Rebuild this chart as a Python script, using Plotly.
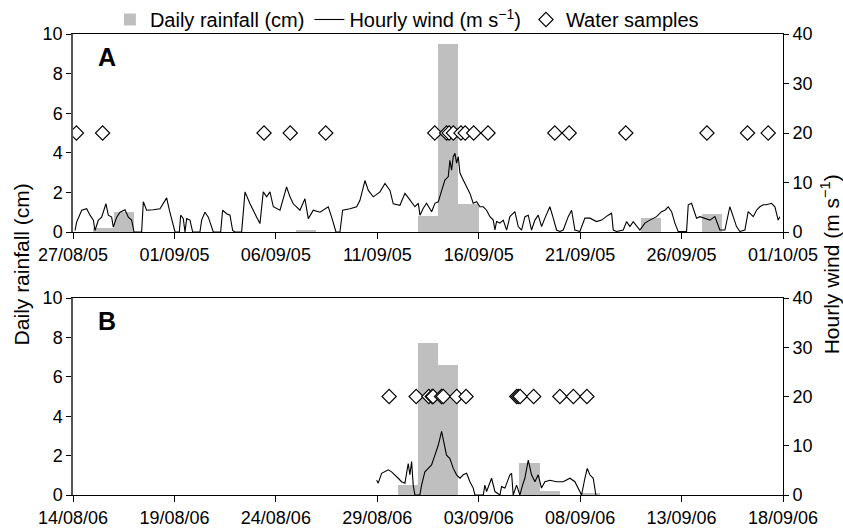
import plotly.graph_objects as go
from datetime import datetime, timedelta

# ---------------- Panel A (2005) ----------------
a_start = "2005-08-27"
a_end = "2005-10-01"
rain_a_dates = ["2005-08-28", "2005-08-29", "2005-09-07", "2005-09-13",
                "2005-09-14", "2005-09-15", "2005-09-24", "2005-09-27"]
rain_a_cm = [0.2, 1.0, 0.1, 0.8, 9.5, 1.4, 0.7, 0.9]

# hours since 27/08/05 00:00 and wind speed (m/s)
wind_a_hours = [2.4, 4.3, 10.3, 16.2, 20.1, 24.1, 26.0, 30.0, 33.9, 39.0, 41.8, 45.7, 47.7,
                51.7, 55.6, 61.5, 65.5, 69.4, 72.2, 81.2, 83.2, 87.1, 95.0, 102.9, 110.8,
                114.0, 120.7, 125.8, 127.4, 130.5, 132.5, 134.5, 138.4, 141.6, 150.2, 152.2,
                156.1, 160.1, 166.0, 174.7, 177.0, 181.8, 185.7, 188.9, 191.6, 199.5, 203.5,
                209.4, 217.3, 221.2, 225.1, 229.1, 233.0, 237.0, 244.9, 252.7, 256.7, 260.6,
                268.5, 274.4, 278.4, 284.3, 292.2, 302.0, 306.0, 311.1, 315.8, 319.0, 327.7,
                335.6, 339.5, 345.4, 349.4, 355.3, 363.2, 369.1, 375.0, 378.9, 386.8,
                392.7, 398.6, 404.5, 408.5, 410.5, 414.4, 418.3, 424.3, 428.2, 432.1, 436.1,
                440.0, 444.0, 445.9, 447.9, 449.9, 451.9, 453.8, 455.8, 457.8, 461.7, 465.7,
                469.6, 473.5, 477.5, 481.4, 485.4, 489.3, 493.3, 497.2, 499.2, 501.1, 505.1,
                509.0, 513.0, 516.9, 522.8, 526.8, 530.7, 534.7, 538.6, 542.5, 546.5, 550.4,
                554.4, 558.3, 564.2, 568.2, 572.1, 576.1, 580.0, 585.9, 589.9, 593.8, 599.7,
                605.6, 611.6, 619.4, 625.4, 633.2, 637.2, 639.2, 643.1, 651.0, 654.9, 658.9,
                662.8, 670.7, 676.6, 682.5, 690.4, 696.3, 700.3, 704.2, 708.2, 712.1, 716.0,
                725.9, 727.9, 731.8, 737.7, 741.7, 747.6, 753.5, 759.4, 765.3, 771.3, 777.1,
                781.1, 785.0, 789.0, 794.9, 798.8, 804.8, 808.7, 812.6, 816.6, 820.5, 826.4,
                830.4, 834.3, 836.3]
wind_a_ms = [0.3, 2.0, 4.4, 4.7, 3.4, 2.4, 0.3, 2.4, 3.0, 5.7, 3.4, 3.0, 1.0,
             3.0, 4.0, 4.5, 3.0, 2.4, 0.0, 0.0, 6.1, 4.4, 4.5, 4.7, 6.9,
             4.4, 0.0, 0.0, 3.4, 2.7, 0.0, 2.7, 2.4, 0.0, 0.0, 2.4,
             4.0, 3.0, 0.0, 0.0, 4.4, 3.7, 3.4, 0.3, 0.0, 0.0, 8.1,
             5.7, 3.0, 1.7, 8.1, 7.1, 8.1, 5.1, 4.4, 9.1, 7.1, 5.7,
             4.4, 6.7, 2.7, 4.4, 4.0, 5.1, 3.0, 0.0, 0.0, 4.4, 4.7,
             5.1, 6.4, 10.4, 8.4, 7.1, 8.1, 9.8, 8.4, 5.7, 5.4,
             7.8, 6.5, 5.1, 5.8, 3.4, 4.8, 5.8, 4.1, 5.8, 6.1, 8.5,
             10.5, 11.2, 14.5, 12.5, 15.2, 15.9, 13.9, 15.2, 11.9, 10.5, 9.2,
             7.8, 5.8, 6.1, 5.1, 5.1, 4.4, 3.1, 2.4, 0.4, 2.1, 1.8,
             2.4, 0.4, 3.1, 4.1, 1.1, 0.4, 3.1, 3.4, 0.4, 2.4, 3.4,
             1.1, 2.8, 5.1, 2.8, 0.4, 0.1, 0.4, 3.1, 4.4, 0.4, 0.1,
             2.8, 2.8, 2.1, 2.4, 3.4, 3.8, 0.4, 0.1, 0.4, 2.1, 1.1,
             2.1, 0.4, 1.8, 2.4, 3.1, 4.1, 4.4, 5.1, 4.1, 1.8, 0.1,
             0.1, 5.5, 5.8, 2.8, 3.1, 2.8, 2.4, 3.1, 0.4, 0.4, 5.1,
             3.1, 1.1, 0.1, 0.4, 4.1, 3.1, 4.4, 5.1, 5.5, 5.5, 5.8,
             5.1, 2.4, 3.1]

samples_a_times = ["2005-08-27 04:00", "2005-08-28 11:00", "2005-09-05 10:00", "2005-09-06 17:00",
                   "2005-09-08 11:00", "2005-09-13 20:00", "2005-09-14 10:00", "2005-09-14 13:00",
                   "2005-09-14 18:00", "2005-09-15 03:00", "2005-09-15 08:00", "2005-09-15 18:00",
                   "2005-09-16 11:00", "2005-09-19 18:00", "2005-09-20 11:00", "2005-09-23 06:00",
                   "2005-09-27 06:00", "2005-09-29 06:00", "2005-09-30 06:30"]

# ---------------- Panel B (2006) ----------------
b_start = "2006-08-14"
b_end = "2006-09-18"
rain_b_dates = ["2006-08-30", "2006-08-31", "2006-09-01", "2006-09-05", "2006-09-06", "2006-09-08"]
rain_b_cm = [0.5, 7.7, 6.6, 1.6, 0.2, 0.1]

# hours since 14/08/06 00:00 and wind speed (m/s)
wind_b_hours = [359.2, 361.1, 365.1, 369.0, 373.0, 376.9, 380.9, 384.8, 388.7, 392.7, 396.6,
                398.6, 400.6, 402.5, 404.5, 410.4, 412.4, 416.3, 420.3, 424.2, 428.2, 432.1,
                436.1, 438.8, 441.9, 445.9, 449.9, 453.8, 457.8, 461.7, 465.7, 469.6, 473.5,
                475.5, 485.4, 487.3, 489.3, 495.2, 499.2, 505.1, 507.0, 511.0, 516.9, 518.9,
                520.8, 524.8, 528.7, 531.9, 534.6, 538.6, 542.5, 546.5, 550.4, 554.3, 558.3,
                564.2, 572.1, 580.0, 587.9, 593.8, 597.7, 601.7, 605.6, 608.4, 611.5, 615.5,
                618.6]
wind_b_ms = [3.0, 2.4, 4.4, 4.7, 5.1, 4.7, 4.1, 3.4, 2.7, 2.4, 6.4,
             4.1, 6.8, 2.0, 0.0, 0.0, 2.0, 4.7, 5.4, 6.1, 8.1, 10.1,
             12.9, 10.5, 8.1, 7.4, 5.4, 4.1, 3.4, 4.1, 4.4, 2.7, 1.4,
             0.0, 0.0, 2.0, 0.7, 3.4, 0.7, 0.0, 1.7, 1.4, 4.1, 4.4,
             0.0, 2.0, 0.0, 2.0, 3.4, 7.1, 4.1, 2.7, 4.1, 1.4, 2.7,
             3.0, 2.7, 2.7, 3.4, 2.7, 1.4, 0.0, 3.4, 5.4, 4.1, 3.4,
             0.0]

samples_b_times = ["2006-08-29 14:00", "2006-08-30 22:00", "2006-08-31 13:00", "2006-08-31 17:00",
                   "2006-08-31 18:00", "2006-09-01 04:00", "2006-09-01 06:00", "2006-09-01 22:00",
                   "2006-09-02 09:00", "2006-09-04 21:00", "2006-09-04 23:00", "2006-09-05 01:00",
                   "2006-09-05 17:00", "2006-09-07 00:00", "2006-09-07 16:00", "2006-09-08 08:00"]

sample_level_ms = 20  # samples are marked at this height on the wind axis

rain_ticks = [0, 2, 4, 6, 8, 10]
wind_ticks = [0, 10, 20, 30, 40]

FONT = "Liberation Sans, Arial, Helvetica, sans-serif"
TICKFONT = dict(family=FONT, size=18, color="black")
DAY_MS = 86400000
BAR_COLOR = "#bfbfbf"


def to_times(start, hours):
    t0 = datetime.strptime(start, "%Y-%m-%d")
    return [t0 + timedelta(hours=h) for h in hours]


fig = go.Figure()

panels = [
    dict(rd=rain_a_dates, rv=rain_a_cm, start=a_start, wh=wind_a_hours, wv=wind_a_ms,
         st=samples_a_times, x="x", y="y", y2="y2", legend=True),
    dict(rd=rain_b_dates, rv=rain_b_cm, start=b_start, wh=wind_b_hours, wv=wind_b_ms,
         st=samples_b_times, x="x2", y="y3", y2="y4", legend=False),
]

for p in panels:
    fig.add_trace(go.Bar(
        x=p["rd"], y=p["rv"], xperiod=DAY_MS, xperiodalignment="middle",
        width=DAY_MS, marker=dict(color=BAR_COLOR, line=dict(width=0)),
        name="Daily rainfall (cm)", xaxis=p["x"], yaxis=p["y"],
        showlegend=p["legend"], legendrank=1))
    fig.add_trace(go.Scatter(
        x=to_times(p["start"], p["wh"]), y=p["wv"], mode="lines",
        line=dict(color="black", width=1.1),
        name="Hourly wind (m s<sup>\u22121</sup>)", xaxis=p["x"], yaxis=p["y2"],
        showlegend=p["legend"], legendrank=2))
    fig.add_trace(go.Scatter(
        x=p["st"], y=[sample_level_ms] * len(p["st"]), mode="markers",
        marker=dict(symbol="diamond", size=11, color="white",
                    line=dict(color="black", width=1.1)),
        name="Water samples", xaxis=p["x"], yaxis=p["y2"],
        showlegend=p["legend"], legendrank=3))

top_dom = [0.5705, 1.0]
bot_dom = [0.0, 0.4273]

xcommon = dict(type="date", tickformat="%d/%m/%y", dtick=5 * DAY_MS,
               showline=True, linecolor="black", linewidth=1, mirror=True,
               ticks="outside", ticklen=6, tickcolor="black", tickfont=TICKFONT,
               showgrid=False, zeroline=False, automargin=False)
yl = dict(range=[0, 10], tickvals=rain_ticks, showline=True, linecolor="#555555",
          linewidth=1.5, ticks="outside", ticklen=5, tickcolor="black",
          tickfont=TICKFONT, showgrid=False, zeroline=False, automargin=False)
yr = dict(range=[0, 40], tickvals=wind_ticks, showline=True, linecolor="black",
          linewidth=1, ticks="outside", ticklen=5, tickcolor="black",
          tickfont=TICKFONT, showgrid=False, zeroline=False, side="right",
          automargin=False)

fig.update_layout(
    width=843, height=528,
    margin=dict(l=73, r=60, t=34, b=33, autoexpand=False),
    paper_bgcolor="white", plot_bgcolor="white",
    font=dict(family=FONT, size=20, color="black"),
    bargap=0,
    xaxis=dict(xcommon, domain=[0, 1], anchor="y", tick0=a_start,
               range=[a_start, a_end]),
    xaxis2=dict(xcommon, domain=[0, 1], anchor="y3", tick0=b_start,
                range=[b_start, b_end]),
    yaxis=dict(yl, domain=top_dom, anchor="x"),
    yaxis2=dict(yr, overlaying="y", anchor="x"),
    yaxis3=dict(yl, domain=bot_dom, anchor="x2"),
    yaxis4=dict(yr, overlaying="y3", anchor="x2"),
    legend=dict(orientation="h", xref="paper", x=0.052, xanchor="left",
                yref="container", y=1.0, yanchor="top",
                font=dict(family=FONT, size=20, color="black"),
                bgcolor="rgba(0,0,0,0)", traceorder="normal"),
    showlegend=True,
)

fig.add_annotation(text="Daily rainfall (cm)", xref="paper", yref="paper",
                   x=-0.072, y=0.5, xanchor="center", yanchor="middle",
                   textangle=-90, showarrow=False,
                   font=dict(family=FONT, size=21, color="black"))
fig.add_annotation(text="Hourly wind (m s<sup>\u22121</sup>)", xref="paper", yref="paper",
                   x=1.066, y=0.5, xanchor="center", yanchor="middle",
                   textangle=-90, showarrow=False,
                   font=dict(family=FONT, size=21, color="black"))
fig.add_annotation(text="<b>A</b>", xref="paper", yref="paper", x=0.032, y=0.95,
                   xanchor="left", yanchor="middle", showarrow=False,
                   font=dict(family=FONT, size=25, color="black"))
fig.add_annotation(text="<b>B</b>", xref="paper", yref="paper", x=0.032, y=0.378,
                   xanchor="left", yanchor="middle", showarrow=False,
                   font=dict(family=FONT, size=25, color="black"))

fig.write_html("out.html", config={"displayModeBar": False},
               post_script="document.body.style.margin='0';document.body.style.overflow='hidden';")
